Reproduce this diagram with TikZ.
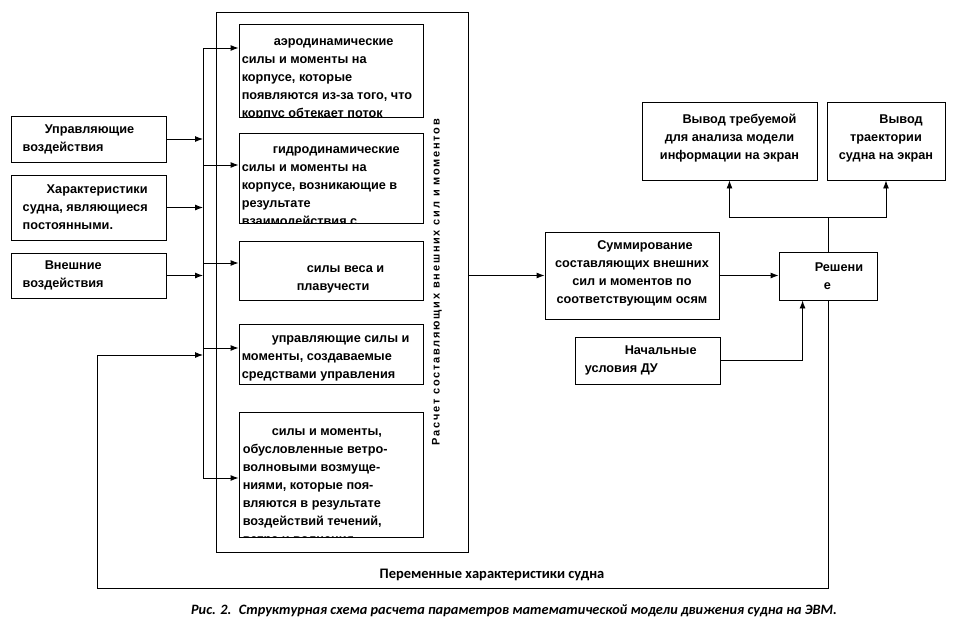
\documentclass[tikz,border=0pt]{standalone}
\usepackage{fontspec}
\setmainfont{Liberation Sans}
\newfontfamily\capfont{Carlito}
\newfontfamily\spacedfont[LetterSpace=16]{Liberation Sans}
\usetikzlibrary{calc, positioning, arrows.meta}
\newcommand{\boxfont}{\fontsize{12.7}{18}\selectfont\bfseries}

\begin{document}
\begin{tikzpicture}[
    x=1pt, y=-1pt,
    box/.style={draw, line width=0.9pt, inner sep=0pt},
    txt/.style={font=\boxfont, align=left, inner sep=0pt},
    ctxt/.style={txt, align=center},
    arr/.style={-{Latex[length=8pt, width=6pt]}, line width=0.9pt},
    ln/.style={line width=0.9pt}
]

\useasboundingbox (0,0) rectangle (972,638);

\def\xin{88.5}
\def\xbox{331}
\def\xbus{203}

% inputs
\node[box, minimum width=155pt, minimum height=46pt] (in1) at (\xin, 139) {};
\node[box, minimum width=155pt, minimum height=65pt] (in2) at (\xin, 207.5) {};
\node[box, minimum width=155pt, minimum height=45pt] (in3) at (\xin, 275.5) {};
\node[txt, anchor=west] (in1t) at ([xshift=12pt]in1.west)
  {\hspace*{22pt}Управляющие\\воздействия};
\node[txt, anchor=west] (in2t) at ([xshift=12pt]in2.west)
  {\hspace*{24pt}Характеристики\\судна, являющиеся\\постоянными.};
\node[txt, anchor=west] (in3t) at ([xshift=12pt]in3.west)
  {\hspace*{22pt}Внешние\\воздействия};

% force components
\node[box, minimum width=252pt, minimum height=540pt] (calc) at (342, 282) {};
\node[box, minimum width=184pt, minimum height=93pt] (A) at (\xbox, 70.5) {};
\node[box, minimum width=184pt, minimum height=90pt] (B) at (\xbox, 178) {};
\node[box, minimum width=184pt, minimum height=59pt] (C) at (\xbox, 270.5) {};
\node[box, minimum width=184pt, minimum height=60pt] (D) at (\xbox, 354) {};
\node[box, minimum width=184pt, minimum height=125pt] (E) at (\xbox, 474.5) {};

\begin{scope}
  \clip (A.north west) rectangle (A.south east);
  \node[txt, anchor=north west] (At) at ([xshift=3pt, yshift=-9pt]A.north west)
    {\strut\hspace*{32pt}аэродинамические\\силы и моменты на\\корпусе, которые\\появляются из-за того, что\\корпус обтекает поток};
\end{scope}
\begin{scope}
  \clip (B.north west) rectangle (B.south east);
  \node[txt, anchor=north west] (Bt) at ([xshift=3pt, yshift=-8pt]B.north west)
    {\strut\hspace*{31pt}гидродинамические\\силы и моменты на\\корпусе, возникающие в\\результате\\взаимодействия с};
\end{scope}
\node[txt, anchor=west] (Ct) at ([xshift=58pt, yshift=-8.5pt]C.west)
  {\hspace*{10pt}силы веса и\\плавучести};
\node[txt, anchor=west] (Dt) at ([xshift=3pt, yshift=-4pt]D.west)
  {\hspace*{30pt}управляющие силы и\\моменты, создаваемые\\средствами управления};
\begin{scope}
  \clip (E.north west) rectangle (E.south east);
  \node[txt, anchor=north west] (Et) at ([xshift=4pt, yshift=-11pt]E.north west)
    {\strut\hspace*{29pt}силы и моменты,\\обусловленные ветро-\\волновыми возмуще-\\ниями, которые поя-\\вляются в результате\\воздействий течений,\\ветра и волнения};
\end{scope}

\node[font={\spacedfont\bfseries\fontsize{11}{12}\selectfont}, rotate=90] (calcl)
  at (437, 282) {Расчет составляющих внешних сил и моментов};

% bus
\coordinate (bA) at (\xbus, 48);
\coordinate (bB) at (\xbus, 165);
\coordinate (bC) at (\xbus, 263);
\coordinate (bD) at (\xbus, 348);
\coordinate (bE) at (\xbus, 478);
\coordinate (bF) at (\xbus, 355);
\draw[ln] (bA) -- (bE);
\draw[arr] (bA) -- (bA -| A.west);
\draw[arr] (bB) -- (bB -| B.west);
\draw[arr] (bC) -- (bC -| C.west);
\draw[arr] (bD) -- (bD -| D.west);
\draw[arr] (bE) -- (bE -| E.west);
\draw[arr] (in1.east) -- (in1.east -| bA);
\draw[arr] (in2.east) -- (in2.east -| bA);
\draw[arr] (in3.east) -- (in3.east -| bA);

% right part
\node[box, minimum width=174pt, minimum height=87pt] (summ) at (632, 275.5) {};
\node[ctxt] (summt) at ([yshift=2pt]summ.center)
  {\hspace*{26pt}Суммирование\\составляющих внешних\\сил и моментов по\\соответствующим осям};
\node[box, minimum width=145pt, minimum height=47pt] (init) at (647.5, 360.5) {};
\node[txt, anchor=west] (initt) at ([xshift=10pt]init.west)
  {\hspace*{40pt}Начальные\\условия ДУ};
\node[box, minimum width=98pt, minimum height=48pt] (solve) at (828, 276) {};
\node[txt, anchor=west] (solvet) at ([xshift=36pt]solve.west)
  {Решени\\\hspace*{9pt}е};
\node[box, minimum width=175pt, minimum height=78pt] (out1) at (729.5, 141) {};
\node[ctxt] (out1t) at ([yshift=3pt]out1.center)
  {\hspace*{20pt}Вывод требуемой\\для анализа модели\\информации на экран};
\node[box, minimum width=118pt, minimum height=78pt] (out2) at (886, 141) {};
\node[ctxt] (out2t) at ([yshift=3pt]out2.center)
  {\hspace*{30pt}Вывод\\траектории\\судна на экран};

\draw[arr] (summ.west -| calc.east) -- (summ.west);
\draw[arr] (summ.east) -- (summ.east -| solve.west);
\draw[arr] (init.east) -| ([xshift=24pt]solve.south west);

\coordinate (split) at (828, 217);
\draw[ln] (solve.north) -- (split);
\draw[arr] (split) -| (out1.south);
\draw[arr] (split) -| (out2.south);

% feedback
\coordinate (fbot) at (97, 588);
\draw[arr] (solve.south) |- (fbot) |- (bF);
\node[font={\capfont\bfseries\fontsize{14.5}{16}\selectfont}] (varl) at (492, 575)
  {Переменные характеристики судна};

\node[font={\capfont\bfseries\itshape\fontsize{14.3}{16}\selectfont}] (cap) at (514, 611)
  {Рис. 2. \ Структурная схема расчета параметров математической модели движения судна на ЭВМ.};

\end{tikzpicture}
\end{document}
